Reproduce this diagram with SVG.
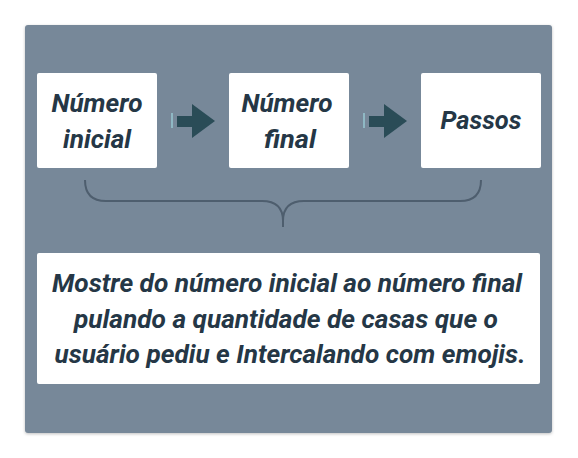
<svg xmlns="http://www.w3.org/2000/svg" width="578" height="458" viewBox="0 0 578 458">
<style>
.box{fill:#ffffff;}
.t{font-family:Roboto,"Liberation Sans",sans-serif;font-weight:bold;font-style:italic;font-size:25px;fill:#253746;text-anchor:middle;}
.bar{fill:#2a4c57;}
.lite{fill:#8fb8c4;}
.brace{fill:none;stroke:#4e5e6e;stroke-width:2;}
</style>
<defs>
<filter id="sh" x="-5%" y="-5%" width="110%" height="110%">
<feDropShadow dx="0" dy="1" stdDeviation="1.5" flood-color="#000" flood-opacity="0.25"/>
</filter>
<g id="arrow">
<rect class="lite" x="0" y="-8" width="2" height="15"/>
<rect class="bar" x="6" y="-5" width="16" height="11"/>
<polygon class="bar" points="21,-17 44,0 21,17"/>
</g>
</defs>
<rect id="panel" x="25" y="25" width="527" height="408" rx="3" fill="#778899" filter="url(#sh)"/>
<g id="node-inicial">
<rect class="box" x="37" y="73" width="120" height="95" rx="2"/>
<text class="t" x="97" y="112" textLength="91" lengthAdjust="spacingAndGlyphs">Número</text>
<text class="t" x="97" y="148" textLength="68" lengthAdjust="spacingAndGlyphs">inicial</text>
</g>
<g id="node-final">
<rect class="box" x="229" y="73" width="120" height="95" rx="2"/>
<text class="t" x="287" y="112" textLength="91" lengthAdjust="spacingAndGlyphs">Número</text>
<text class="t" x="290" y="148" textLength="52" lengthAdjust="spacingAndGlyphs">final</text>
</g>
<g id="node-passos">
<rect class="box" x="421" y="73" width="120" height="95" rx="2"/>
<text class="t" x="481" y="129" textLength="81" lengthAdjust="spacingAndGlyphs">Passos</text>
</g>
<g id="connectors">
<use href="#arrow" x="171" y="121"/>
<use href="#arrow" x="363" y="121"/>
<path class="brace" d="M85,180 Q85,201 106,201 L262,201 Q283,201 283,221 L283,227 M283,221 Q283,201 304,201 L460,201 Q481,201 481,180"/>
</g>
<g id="node-desc">
<rect class="box" x="37" y="253" width="503" height="131" rx="2"/>
<text class="t" x="287" y="292" textLength="470" lengthAdjust="spacingAndGlyphs">Mostre do número inicial ao número final</text>
<text class="t" x="286" y="328" textLength="424" lengthAdjust="spacingAndGlyphs">pulando a quantidade de casas que o</text>
<text class="t" x="290" y="363" textLength="471" lengthAdjust="spacingAndGlyphs">usuário pediu e Intercalando com emojis.</text>
</g>
</svg>
